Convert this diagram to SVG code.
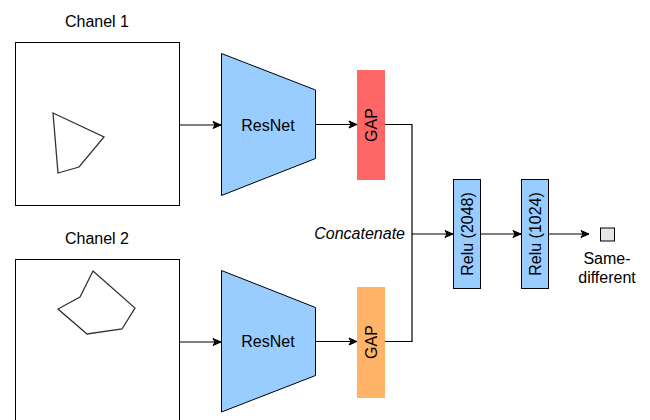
<svg xmlns="http://www.w3.org/2000/svg" width="650" height="420" viewBox="0 0 650 420">
<defs>
<marker id="arr" markerWidth="10" markerHeight="10" refX="9" refY="5" orient="auto" markerUnits="userSpaceOnUse">
<path d="M1,1.5 L9,5 L1,8.5 L3,5 Z" fill="#000" stroke="#000" stroke-width="1"/>
</marker>
</defs>
<style>
text{font-family:"Liberation Sans",Arial,sans-serif;font-size:16px;fill:#000}
.box{fill:#fff;stroke:#000;stroke-width:1}
.shape{fill:none;stroke:#333;stroke-width:1.3}
.net{fill:#99CCFF;stroke:#000;stroke-width:1}
.edge{fill:none;stroke:#000;stroke-width:1.2}
</style>
<rect width="650" height="420" fill="#fff"/>
<g id="channel1">
<text x="97" y="27" text-anchor="middle">Chanel 1</text>
<rect class="box" x="15.5" y="42.5" width="164" height="163"/>
<polygon class="shape" points="53,113 104,137 79,167 58,173"/>
</g>
<g id="channel2">
<text x="97" y="244" text-anchor="middle">Chanel 2</text>
<rect class="box" x="15.5" y="259.5" width="164" height="170"/>
<polygon class="shape" points="93,271 135,308 122,329 87,334 58,309 80,297"/>
</g>
<g id="resnet1">
<polygon class="net" points="221.5,53.5 315.5,90 315.5,158.5 221.5,195.5"/>
<text x="268" y="130.5" text-anchor="middle">ResNet</text>
</g>
<g id="resnet2">
<polygon class="net" points="221.5,270.5 315.5,307.5 315.5,375.5 221.5,412"/>
<text x="268" y="347" text-anchor="middle">ResNet</text>
</g>
<g id="gap1">
<rect x="357" y="70" width="28" height="110" fill="#FF6666"/>
<text transform="translate(377,125) rotate(-90)" text-anchor="middle">GAP</text>
</g>
<g id="gap2">
<rect x="357" y="287" width="28" height="111" fill="#FFB366"/>
<text transform="translate(377,342) rotate(-90)" text-anchor="middle">GAP</text>
</g>
<g id="relu1">
<rect class="net" x="453.5" y="179.5" width="27" height="109"/>
<text transform="translate(473,234) rotate(-90)" text-anchor="middle">Relu (2048)</text>
</g>
<g id="relu2">
<rect class="net" x="521.5" y="179.5" width="27" height="109"/>
<text transform="translate(541,234) rotate(-90)" text-anchor="middle">Relu (1024)</text>
</g>
<g id="output">
<rect x="600.5" y="228" width="14" height="13" fill="#E6E6E6" stroke="#000" stroke-width="1"/>
<text x="607" y="264" text-anchor="middle">Same-</text>
<text x="607" y="283" text-anchor="middle">different</text>
</g>
<g id="connectors">
<path class="edge" d="M180,125 H221" marker-end="url(#arr)"/>
<path class="edge" d="M180,342 H221" marker-end="url(#arr)"/>
<path class="edge" d="M315,124.5 H357" marker-end="url(#arr)"/>
<path class="edge" d="M315,341.5 H357" marker-end="url(#arr)"/>
<path class="edge" d="M385,124.5 H412 V341.5 H385"/>
<path class="edge" d="M412,234 H453" marker-end="url(#arr)"/>
<path class="edge" d="M480,234 H521" marker-end="url(#arr)"/>
<path class="edge" d="M548,234 H589" marker-end="url(#arr)"/>
<text x="405" y="239" text-anchor="end" font-style="italic">Concatenate</text>
</g>
</svg>
